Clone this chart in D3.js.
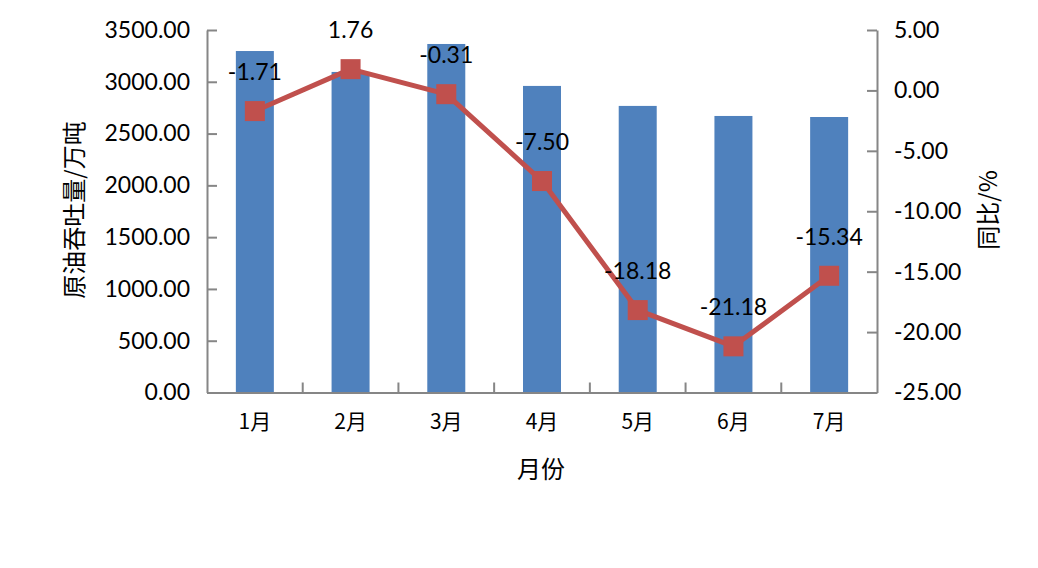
<!DOCTYPE html>
<html>
  <head>
    <meta charset="utf-8" />
    <title>原油吞吐量</title>
    <script src="https://cdn.jsdelivr.net/npm/d3@7"></script>
    <style>
      body { margin: 0; background: #fff; }
      text { font-family: Lato, "Noto Sans", sans-serif; fill: #000; }
      .cjk { font-family: "Noto Sans CJK SC", sans-serif; }
    </style>
  </head>
  <body>
    <script>
      // 月份, 吞吐量(万吨), 同比(%)
      const months = ["1月", "2月", "3月", "4月", "5月", "6月", "7月"];
      const volume = [3297, 3095, 3365, 2960, 2767, 2670, 2660];
      const yoy = [-1.71, 1.76, -0.31, -7.5, -18.18, -21.18, -15.34];
      const leftTicks = [0, 500, 1000, 1500, 2000, 2500, 3000, 3500];
      const rightTicks = [5, 0, -5, -10, -15, -20, -25];

      const w = 1038;
      const h = 568;
      const pLeft = 207, pRight = 877, pTop = 30, pBottom = 392.5;
      const axisColor = "#868686";
      // plain hyphen for negatives, like the original
      const fmt = d3.formatLocale({ decimal: ".", thousands: ",", grouping: [3], currency: ["", ""], minus: "-" }).format(".2f");

      const svg = d3.select("body").append("svg")
        .attr("width", w).attr("height", h);

      const xc = d3.scaleBand().domain(months).range([pLeft, pRight]);
      const yL = d3.scaleLinear().domain([0, 3500]).range([pBottom, pTop]);
      const yR = d3.scaleLinear().domain([-25, 5]).range([pBottom, pTop]);

      // bars
      svg.selectAll("rect.bar").data(volume).enter().append("rect")
        .attr("class", "bar")
        .attr("x", (d, i) => xc(months[i]) + xc.bandwidth() / 2 - 19)
        .attr("width", 38)
        .attr("y", d => yL(d))
        .attr("height", d => yL(0) - yL(d))
        .attr("fill", "#4F81BD");

      // left axis
      const gl = svg.append("g").attr("transform", "translate(" + pLeft + ",0)")
        .call(d3.axisLeft(yL).tickValues(leftTicks).tickFormat(fmt).tickSizeInner(-10).tickSizeOuter(0).tickPadding(17));
      // right axis
      const gr = svg.append("g").attr("transform", "translate(" + pRight + ",0)")
        .call(d3.axisRight(yR).tickValues(rightTicks).tickFormat(fmt).tickSizeInner(-10).tickSizeOuter(0).tickPadding(17));
      // bottom axis
      const gb = svg.append("g").attr("transform", "translate(0," + pBottom + ")")
        .call(d3.axisBottom(xc).tickSize(0).tickPadding(22));
      gb.selectAll(".tick text").attr("class", "cjk");

      // category boundary ticks
      svg.selectAll("line.xt").data(months.slice(1)).enter().append("line")
        .attr("class", "xt")
        .attr("x1", d => xc(d)).attr("x2", d => xc(d))
        .attr("y1", pBottom).attr("y2", pBottom - 10)
        .attr("stroke", axisColor).attr("stroke-width", 2);

      [gl, gr, gb].forEach(g => {
        g.selectAll("path.domain").attr("stroke", axisColor).attr("stroke-width", 2);
        g.selectAll(".tick line").attr("stroke", axisColor).attr("stroke-width", 2);
        g.selectAll(".tick text").style("font-size", "23px").attr("fill", "#000");
      });
      gb.selectAll(".tick text").style("font-size", "21px");

      // line
      const cx = i => xc(months[i]) + xc.bandwidth() / 2;
      svg.append("path").datum(yoy)
        .attr("fill", "none").attr("stroke", "#C0504D").attr("stroke-width", 5)
        .attr("stroke-linejoin", "round")
        .attr("d", d3.line().x((d, i) => cx(i)).y(d => yR(d)));

      svg.selectAll("rect.mk").data(yoy).enter().append("rect")
        .attr("class", "mk")
        .attr("x", (d, i) => cx(i) - 10).attr("y", d => yR(d) - 10)
        .attr("width", 20).attr("height", 20)
        .attr("fill", "#C0504D");

      svg.selectAll("text.lbl").data(yoy).enter().append("text")
        .attr("class", "lbl")
        .attr("x", (d, i) => cx(i))
        .attr("y", d => yR(d) - 31)
        .attr("text-anchor", "middle")
        .style("font-size", "23px")
        .text(d => fmt(d));

      // axis titles
      svg.append("text").attr("class", "cjk")
        .attr("transform", "translate(83,210) rotate(-90)")
        .attr("text-anchor", "middle").style("font-size", "24px")
        .text("原油吞吐量/万吨");
      svg.append("text").attr("class", "cjk")
        .attr("transform", "translate(997,210) rotate(-90)")
        .attr("text-anchor", "middle").style("font-size", "24px")
        .text("同比/%");
      svg.append("text").attr("class", "cjk")
        .attr("x", 541).attr("y", 478)
        .attr("text-anchor", "middle").style("font-size", "24px")
        .text("月份");
    </script>
  </body>
</html>
